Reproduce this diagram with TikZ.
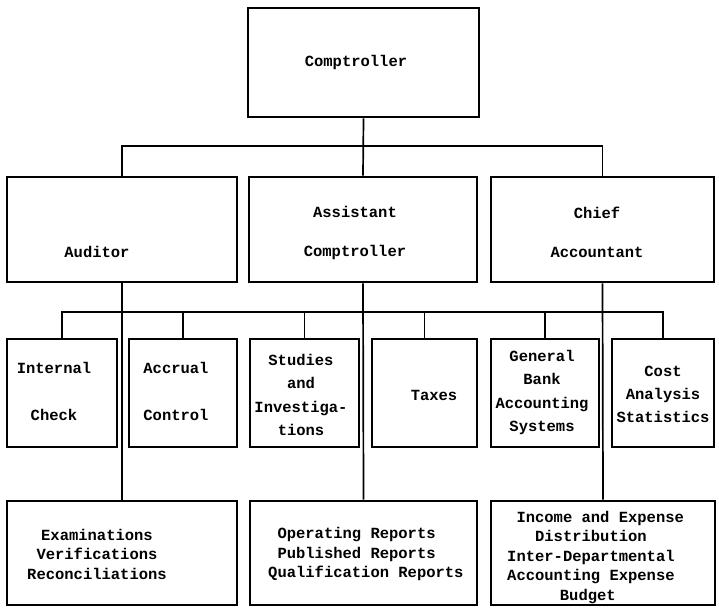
\documentclass[tikz,border=0pt]{standalone}
\usepackage{fontspec}
\setmonofont{Liberation Mono}[BoldFont={Liberation Mono Bold}]
\newcommand\lblfont{\ttfamily\bfseries\fontsize{15.5}{19.5}\selectfont}
\tikzset{
  box/.style={draw, line width=2.7pt, inner sep=0pt},
  link/.style={line width=1.7pt},
  lbl/.style={font=\lblfont, align=center, inner sep=0pt},
}
\begin{document}
\begin{tikzpicture}[x=1pt, y=-1pt]
        \useasboundingbox (0,0) rectangle (719,608);

        % boxes
        \node[box, minimum width=231pt, minimum height=109pt] (comp) at (363.5,62.5) {};
        \node[box, minimum width=230pt, minimum height=105pt] (aud) at (122,229.5) {};
        \node[box, minimum width=228pt, minimum height=105pt] (asst) at (363,229.5) {};
        \node[box, minimum width=223pt, minimum height=105pt] (chief) at (602.5,229.5) {};

        \node[box, minimum width=110pt, minimum height=108pt] (intern) at (62,393) {};
        \node[box, minimum width=108pt, minimum height=108pt] (accr) at (183,393) {};
        \node[box, minimum width=109pt, minimum height=108pt] (stud) at (304.5,393) {};
        \node[box, minimum width=105pt, minimum height=108pt] (tax) at (424.5,393) {};
        \node[box, minimum width=108pt, minimum height=108pt] (gen) at (545,393) {};
        \node[box, minimum width=102pt, minimum height=108pt] (cost) at (663,393) {};

        \node[box, minimum width=230pt, minimum height=104pt] (exam) at (122,553) {};
        \node[box, minimum width=227pt, minimum height=104pt] (oper) at (363.5,553) {};
        \node[box, minimum width=224pt, minimum height=104pt] (inc) at (603,553) {};

        % texts
        \node[lbl] (tcomp) at (356,62) {Comptroller};
        \node[lbl] (taud) at (97,252) {Auditor};
        \node[lbl] (tasst) at (355,232.5) {Assistant\\[19.5pt]Comptroller};
        \node[lbl] (tchief) at (597,232.5) {Chief\\[19.5pt]Accountant};

        \node[lbl] (tintern) at (54,391.5) {Internal\\[27.5pt]Check};
        \node[lbl] (taccr) at (176,391.5) {Accrual\\[27.5pt]Control};
        \node[lbl] (tstud) at (301,395) {Studies\\[4pt]and\\[4pt]Investiga-\\[4pt]tions};
        \node[lbl] (ttax) at (434,395) {Taxes};
        \node[lbl] (tgen) at (542,392.5) {General\\[4pt]Bank\\[4pt]Accounting\\[4pt]Systems};
        \node[lbl] (tcost) at (663,394) {Cost\\[3.5pt]Analysis\\[3.5pt]Statistics};

        \node[lbl] (texam) at (97,554) {Examinations\\Verifications\\Reconciliations};
        \node[lbl, align=left, anchor=west] (toper) at (268,554)
            {\hspace*{0.6em}Operating Reports\\\hspace*{0.6em}Published Reports\\Qualification Reports};
        \node[lbl, align=left, anchor=west] (tinc) at (507,557.5)
            {\hspace*{0.6em}Income and Expense\\\hspace*{1.8em}Distribution\\Inter-Departmental\\Accounting Expense\\\hspace*{3.4em}Budget};

        % connectors
        \coordinate (bus1) at (0,146);
        \coordinate (bus2) at (0,312);
        \draw[link] (comp.south) -- (asst.north);
        \draw[link] (aud.north) -- (aud.north |- bus1) -- (chief.north |- bus1) -- (chief.north);
        \draw[link] (intern.north) -- (intern.north |- bus2) -- (cost.north |- bus2) -- (cost.north);
        \foreach \n in {accr, stud, tax, gen}
            \draw[link] (\n.north) -- (\n.north |- bus2);
        \draw[link] (aud.south) -- (exam.north);
        \draw[link] (asst.south) -- (oper.north);
        \draw[link] (chief.south) -- (inc.north);

    \end{tikzpicture}
\end{document}
